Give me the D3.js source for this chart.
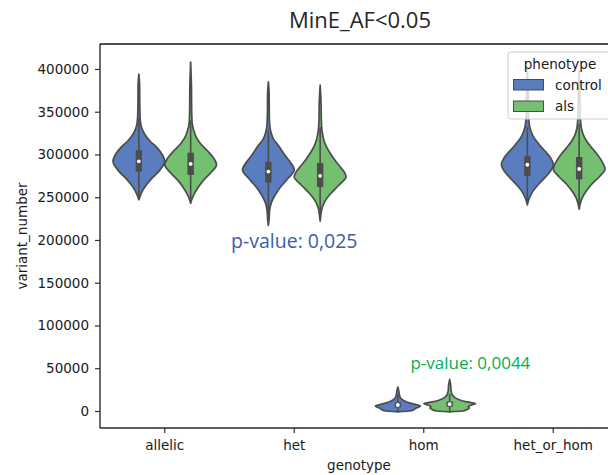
<!DOCTYPE html>
<html>
<head>
<meta charset="utf-8">
<script src="https://cdn.jsdelivr.net/npm/d3@7"></script>
<style>
  body { margin: 0; background: #fff; }
  svg { display: block; font-family: "DejaVu Sans", sans-serif; }
</style>
</head>
<body>
<svg id="chart" width="608" height="475"></svg>
<script>
// ---- data ----
const genotypes = ["allelic", "het", "hom", "het_or_hom"];
const phenotypes = ["control", "als"];
const yTicks = [0, 50000, 100000, 150000, 200000, 250000, 300000, 350000, 400000];

// Kernel density outlines: [variant_number, relative half-width]
const allelicControl = [[247000,0],[252000,0.06],[258000,0.15],[264000,0.28],[272000,0.5],[282000,0.82],[292000,1.0],[300000,0.9],[308000,0.7],[316000,0.42],[324000,0.22],[332000,0.1],[342000,0.05],[360000,0.035],[380000,0.03],[394000,0]];
const allelicAls     = [[243000,0],[248000,0.05],[254000,0.14],[262000,0.3],[270000,0.5],[280000,0.82],[288000,1.0],[296000,0.88],[304000,0.66],[312000,0.4],[320000,0.22],[328000,0.12],[336000,0.06],[350000,0.04],[380000,0.03],[408000,0]];
const hetControl     = [[217000,0],[225000,0.03],[235000,0.05],[244000,0.12],[252000,0.25],[260000,0.42],[270000,0.7],[282000,1.0],[292000,0.82],[300000,0.62],[310000,0.4],[318000,0.2],[326000,0.1],[336000,0.05],[350000,0.035],[370000,0.03],[385000,0]];
const hetAls         = [[222000,0],[230000,0.03],[238000,0.08],[246000,0.2],[254000,0.4],[264000,0.72],[274000,1.0],[284000,0.82],[292000,0.6],[300000,0.42],[308000,0.26],[316000,0.15],[326000,0.08],[340000,0.045],[360000,0.035],[381000,0]];
const homControl     = [[-1000,0],[0,0.45],[1500,0.62],[3000,0.68],[4500,0.8],[6000,0.87],[7500,0.7],[9500,0.45],[11500,0.28],[13500,0.16],[16000,0.09],[19000,0.06],[23000,0.04],[28000,0]];
const homAls         = [[-1000,0],[0,0.5],[2000,0.7],[3500,0.76],[5000,0.72],[7000,0.85],[8500,1.0],[10000,0.78],[12000,0.48],[14000,0.3],[16500,0.17],[19000,0.1],[23000,0.06],[30000,0.04],[37000,0]];
const hetOrHomControl = [[241000,0],[246000,0.04],[252000,0.12],[258000,0.24],[264000,0.4],[272000,0.65],[280000,0.88],[288000,1.0],[296000,0.9],[304000,0.68],[312000,0.45],[320000,0.25],[328000,0.13],[336000,0.07],[350000,0.04],[375000,0.03],[399000,0]];
const hetOrHomAls    = [[236000,0],[242000,0.04],[248000,0.1],[256000,0.25],[264000,0.45],[274000,0.78],[283000,1.0],[292000,0.88],[300000,0.7],[308000,0.48],[316000,0.28],[324000,0.15],[332000,0.08],[345000,0.045],[370000,0.03],[398000,0]];

// Box statistics: [lower whisker, q1, median, q3, upper whisker]
const controlBoxes = [[250000,280000,292000,305000,342000],[230000,267000,280000,291500,328000],[0,4000,7000,10000,19000],[242000,275000,288000,298000,332000]];
const alsBoxes     = [[248000,276000,289000,302000,340000],[226000,262000,275000,290000,332000],[0,5000,8000,11000,20000],[238000,271000,283000,297000,336000]];

// Significance notes: text, category index, variant_number
const pValueTexts   = ["p-value: 0,025", "p-value: 0,0044"];
const pValueIndex   = [1.0, 2.36];
const pValueHeights = [190500, 49000];

// ---- drawing ----
const profiles = {
  control: [allelicControl, hetControl, homControl, hetOrHomControl],
  als: [allelicAls, hetAls, homAls, hetOrHomAls]
};
const boxes = { control: controlBoxes, als: alsBoxes };
const fills = { control: "#597dbf", als: "#75bf71" };
const pColors = ["#3a5fa8", "#00b050"];
const pSizes = ["19.5px", "17px"];
const edge = "#4c4c4c";

const svg = d3.select("#chart");
const plotLeft = 100, plotRight = 618, plotTop = 44, plotBottom = 428;

const x = d3.scaleBand().domain(genotypes).range([plotLeft, plotRight]).padding(0);
const step = x.step();
const hue = d3.scaleBand().domain(phenotypes).range([0.1 * step, 0.9 * step]).padding(0);
const halfW = hue.bandwidth() / 2;
const y = d3.scaleLinear().domain([-19900, 429200]).range([plotBottom, plotTop]);
const xIdx = d3.scaleLinear().domain([-0.5, genotypes.length - 0.5]).range([plotLeft, plotRight]);

// violins
const plot = svg.append("g");
phenotypes.forEach(p => {
  genotypes.forEach((g, i) => {
    const cx = x(g) + hue(p) + halfW;
    const area = d3.area()
      .y(d => y(d[0]))
      .x0(d => cx - d[1] * halfW)
      .x1(d => cx + d[1] * halfW)
      .curve(d3.curveMonotoneY);
    plot.append("path")
      .attr("d", area(profiles[p][i]))
      .attr("fill", fills[p])
      .attr("stroke", edge)
      .attr("stroke-width", 1.7)
      .attr("stroke-linejoin", "round");
    const b = boxes[p][i];
    plot.append("line")
      .attr("x1", cx).attr("x2", cx)
      .attr("y1", y(b[0])).attr("y2", y(b[4]))
      .attr("stroke", edge).attr("stroke-width", 1.6);
    plot.append("rect")
      .attr("x", cx - 3.2).attr("width", 6.4)
      .attr("y", y(b[3])).attr("height", y(b[1]) - y(b[3]))
      .attr("fill", edge);
    plot.append("circle")
      .attr("cx", cx).attr("cy", y(b[2])).attr("r", 1.9)
      .attr("fill", "#fff");
  });
});

// axes
const yAxis = d3.axisLeft(y).tickValues(yTicks).tickFormat(d3.format("d")).tickSize(5).tickPadding(6).tickSizeOuter(0);
const gy = svg.append("g").attr("transform", `translate(${plotLeft},0)`).call(yAxis);
const xAxis = d3.axisBottom(x).tickSize(5).tickPadding(7).tickSizeOuter(0);
const gx = svg.append("g").attr("transform", `translate(0,${plotBottom})`).call(xAxis);
[gy, gx].forEach(g => {
  g.select(".domain").remove();
  g.selectAll("line").attr("stroke", "#333").attr("stroke-width", 1.2);
  g.selectAll("text").attr("fill", "#1a1a1a").style("font-size", "13.5px").style("font-family", "DejaVu Sans, sans-serif");
});

// spines
const spines = svg.append("g").attr("stroke", "#2b2b2b").attr("stroke-width", 1.4);
spines.append("line").attr("x1", plotLeft).attr("x2", plotLeft).attr("y1", plotTop).attr("y2", plotBottom);
spines.append("line").attr("x1", plotLeft).attr("x2", plotRight).attr("y1", plotBottom).attr("y2", plotBottom);
spines.append("line").attr("x1", plotLeft).attr("x2", plotRight).attr("y1", plotTop).attr("y2", plotTop).attr("stroke", "#111");

// axis titles
svg.append("text")
  .attr("x", (plotLeft + plotRight) / 2).attr("y", 470)
  .attr("text-anchor", "middle").style("font-size", "13.5px").attr("fill", "#1a1a1a")
  .text("genotype");
svg.append("text")
  .attr("transform", `translate(27,${(plotTop + plotBottom) / 2}) rotate(-90)`)
  .attr("text-anchor", "middle").style("font-size", "13.5px").attr("fill", "#1a1a1a")
  .text("variant_number");

// title
svg.append("text")
  .attr("x", 360).attr("y", 28)
  .attr("text-anchor", "middle")
  .style("font-family", "'Open Sans', sans-serif").style("font-size", "22px")
  .attr("fill", "#262626")
  .text("MinE_AF<0.05");

// p-value notes
pValueTexts.forEach((t, i) => {
  svg.append("text")
    .attr("x", xIdx(pValueIndex[i])).attr("y", y(pValueHeights[i]))
    .attr("text-anchor", "middle")
    .style("font-family", "'Open Sans', sans-serif").style("font-size", pSizes[i])
    .attr("fill", pColors[i])
    .text(t);
});

// legend
const lg = svg.append("g").attr("transform", "translate(508,52)");
lg.append("rect")
  .attr("x", 0).attr("y", 0).attr("width", 120).attr("height", 67).attr("rx", 3)
  .attr("fill", "#fff").attr("fill-opacity", 0.8)
  .attr("stroke", "#cccccc").attr("stroke-width", 1);
lg.append("text")
  .attr("x", 52).attr("y", 16.5).attr("text-anchor", "middle")
  .style("font-size", "13.5px").attr("fill", "#1a1a1a")
  .text("phenotype");
phenotypes.forEach((p, i) => {
  lg.append("rect")
    .attr("x", 5.5).attr("y", 27.5 + i * 21.5).attr("width", 30).attr("height", 10.5)
    .attr("fill", fills[p]).attr("stroke", edge).attr("stroke-width", 1);
  lg.append("text")
    .attr("x", 47).attr("y", 37.5 + i * 21.5)
    .style("font-size", "13.5px").attr("fill", "#1a1a1a")
    .text(p);
});
</script>
</body>
</html>
